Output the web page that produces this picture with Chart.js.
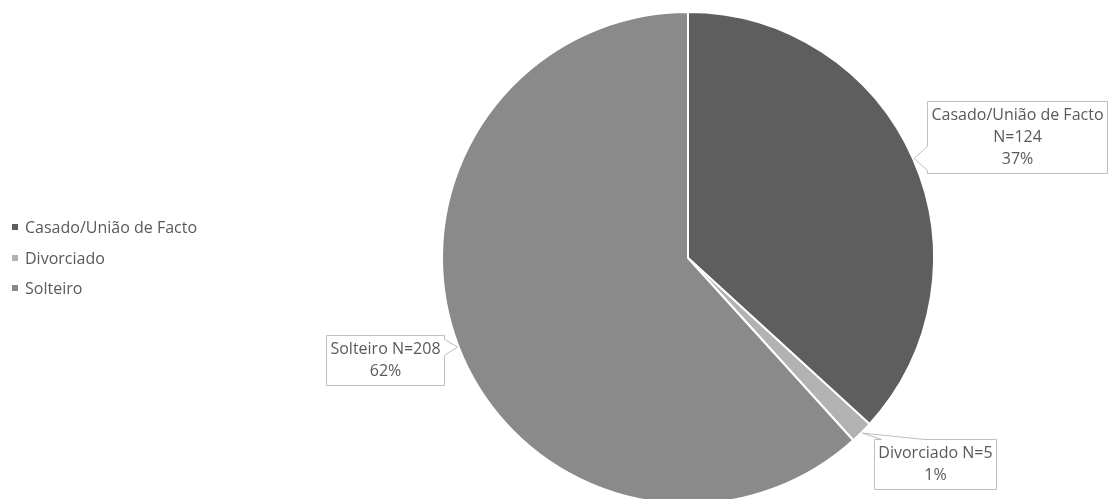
<!DOCTYPE html>
<html>
<head>
<meta charset="utf-8">
<title>Estado civil</title>
<script src="https://cdn.jsdelivr.net/npm/chart.js@4.4.0/dist/chart.umd.min.js"></script>
<style>
    html, body { margin: 0; padding: 0; background: #fff; overflow: hidden; }
    #wrap { position: relative; width: 1109px; height: 520px; }
    #legend { position: absolute; left: 12px; top: 212px; font: 16px 'Open Sans', sans-serif; color: #595959; }
    #legend .item { height: 30.5px; display: flex; align-items: center; white-space: nowrap; }
    #legend .box { width: 6px; height: 6px; margin-right: 7px; }
</style>
</head>
<body>
<div id="wrap">
    <canvas id="civil-chart"></canvas>
    <div id="legend"></div>
</div>
<script>
const categories = ['Casado/União de Facto', 'Divorciado', 'Solteiro'];
const counts = [124, 5, 208];
const sliceColors = ['#5e5e5e', '#b2b2b2', '#8a8a8a'];

// onde fica cada caixa em relação ao ponto da fatia (centro da caixa)
const calloutLayout = [
    { dx: 103, dy: -21, side: 'left',  base: [45, 69] },
    { dx: 73,  dy: 31,  side: 'top',   base: [7, 50] },
    { dx: -72, dy: 13,  side: 'right', base: [4, 20] }
];

const LABEL_FONT = '16px "Open Sans", sans-serif';
const LINE_H = 22;

function labelLines(i, total) {
    const pct = Math.round(counts[i] / total * 100) + '%';
    const name = categories[i];
    if (name.length > 14) {
        return [name, 'N=' + counts[i], pct];
    }
    return [name + ' N=' + counts[i], pct];
}

const calloutPlugin = {
    id: 'callouts',
    afterDatasetsDraw(chart) {
        const ctx = chart.ctx;
        const meta = chart.getDatasetMeta(0);
        const total = counts.reduce((a, b) => a + b, 0);

        ctx.save();
        ctx.font = LABEL_FONT;
        meta.data.forEach((arc, i) => {
            const p = arc.getProps(['x', 'y', 'startAngle', 'endAngle', 'outerRadius'], true);
            const mid = (p.startAngle + p.endAngle) / 2;
            const ax = p.x + Math.cos(mid) * (p.outerRadius + 1);
            const ay = p.y + Math.sin(mid) * (p.outerRadius + 1);

            const lines = labelLines(i, total);
            const w = Math.max(...lines.map(l => ctx.measureText(l).width)) + 8;
            const h = lines.length * LINE_H + 6;
            const cfg = calloutLayout[i];
            const L = Math.round(ax + cfg.dx - w / 2) + 0.5;
            const T = Math.round(ay + cfg.dy - h / 2) + 0.5;
            const R = L + Math.round(w);
            const B = T + h;
            const [a, b] = cfg.base;

            let pts;
            if (cfg.side === 'top') {
                pts = [[L, T], [L + a, T], [ax, ay], [L + b, T], [R, T], [R, B], [L, B]];
            } else if (cfg.side === 'right') {
                pts = [[L, T], [R, T], [R, T + a], [ax, ay], [R, T + b], [R, B], [L, B]];
            } else {
                pts = [[L, T], [R, T], [R, B], [L, B], [L, T + b], [ax, ay], [L, T + a]];
            }

            ctx.beginPath();
            pts.forEach(([x, y], k) => k ? ctx.lineTo(x, y) : ctx.moveTo(x, y));
            ctx.closePath();
            ctx.fillStyle = '#ffffff';
            ctx.fill();
            ctx.strokeStyle = '#bfbfbf';
            ctx.lineWidth = 1;
            ctx.stroke();

            ctx.fillStyle = '#595959';
            ctx.textAlign = 'center';
            ctx.textBaseline = 'middle';
            const cx = (L + R) / 2;
            lines.forEach((line, k) => {
                ctx.fillText(line, cx, T + 3 + LINE_H / 2 + k * LINE_H);
            });
        });
        ctx.restore();
    }
};

const ctx = document.getElementById('civil-chart').getContext('2d');
const civilChart = new Chart(ctx, {
    type: 'pie',
    data: {
        labels: categories,
        datasets: [{
            data: counts,
            backgroundColor: sliceColors,
            borderColor: '#ffffff',
            borderWidth: 2
        }]
    },
    options: {
        responsive: true,
        maintainAspectRatio: false,
        animation: false,
        layout: {
            padding: { left: 441, right: 174, top: 11, bottom: 15 }
        },
        plugins: {
            legend: { display: false },
            tooltip: { enabled: false }
        }
    },
    plugins: [calloutPlugin]
});

// legenda em HTML, à esquerda
const legendEl = document.getElementById('legend');
civilChart.data.labels.forEach((label, i) => {
    const item = document.createElement('div');
    item.className = 'item';
    const box = document.createElement('span');
    box.className = 'box';
    box.style.background = sliceColors[i];
    item.appendChild(box);
    item.appendChild(document.createTextNode(label));
    legendEl.appendChild(item);
});
</script>
</body>
</html>
